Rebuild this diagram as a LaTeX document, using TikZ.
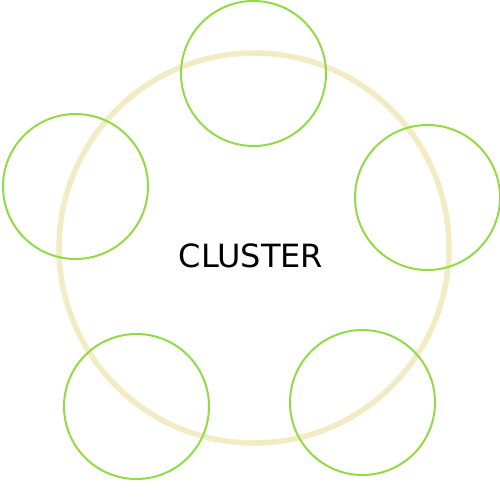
\documentclass[tikz,border=0pt]{standalone}
\usepackage{fontspec}
\setmainfont{DejaVu Sans}
\definecolor{hullcol}{HTML}{F3EBC3}
\definecolor{membercol}{HTML}{93DB44}
\begin{document}
\begin{tikzpicture}[
        x=1pt, y=-1pt,
        hull/.style={draw=hullcol, circle, line width=5.5pt, minimum size=390pt, inner sep=0pt},
        member/.style={draw=membercol, circle, line width=2pt, minimum size=145pt, inner sep=0pt},
        label/.style={font=\fontsize{32}{38}\selectfont, text=black}
    ]
        \useasboundingbox (0,0) rectangle (500,500);
        % Cluster outline and its title
        \node[hull] (cl) at (254,248) {};
        \node[label] (title) at (251,256) {CLUSTER};
        
        % Member circles around the cluster
        \node[member] (m1) at (253.5,73.5) {};
        \node[member] (m2) at (427.5,197.5) {};
        \node[member] (m3) at (362.5,402.5) {};
        \node[member] (m4) at (136.5,406.5) {};
        \node[member] (m5) at (75.5,186.5) {};
    \end{tikzpicture}
\end{document}
